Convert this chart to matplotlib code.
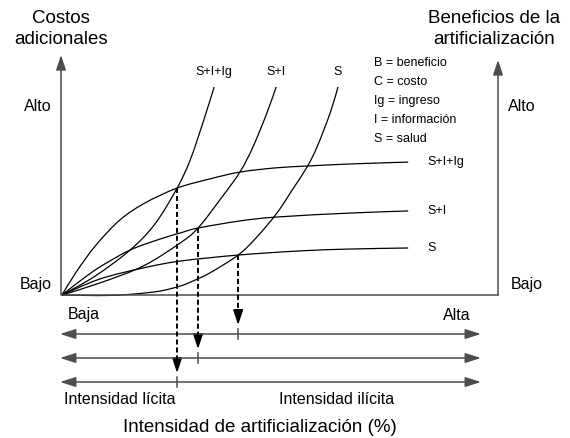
import numpy as np
import matplotlib.pyplot as plt
from matplotlib.path import Path
from matplotlib.patches import PathPatch, FancyArrowPatch

plt.rcParams['font.family'] = ['Liberation Sans', 'DejaVu Sans']

# x = intensidad de artificializacion (%), y = nivel (0 bajo .. 100 alto)
series = ['S+I+Ig', 'S+I', 'S']

costo_sii_x = [0, 7.6, 15.6, 21.3, 26.4, 29.4, 32.3, 34.9]
costo_sii_y = [0, 9.1, 21.6, 34.1, 51.4, 64.9, 82.7, 100]
costo_si_x = [0, 8.7, 18.6, 27.1, 31.2, 36.2, 40.8, 43.8, 47.0, 49.1]
costo_si_y = [0, 5.8, 13.9, 25.0, 32.2, 45.7, 59.1, 71.2, 87.5, 100]
costo_s_x = [0, 5.3, 11.0, 16.7, 22.5, 27.1, 30.0, 33.9, 40.4, 44.7, 49.3, 52.8, 56.2, 58.5, 61.5, 63.3]
costo_s_y = [0, -0.2, -0.2, 0.5, 1.9, 4.3, 6.7, 10.6, 19.2, 27.9, 39.4, 50.5, 61.5, 71.2, 87.5, 100]

benef_sii_x = [0, 3.4, 7.8, 13.3, 19.0, 26.4, 33.9, 40.8, 48.9, 56.2, 66.1, 79.4]
benef_sii_y = [0, 11.5, 24.0, 36.1, 44.2, 51.4, 55.8, 59.1, 61.1, 62.0, 63.0, 63.9]
benef_si_x = [0, 4.1, 8.7, 15.6, 22.5, 27.1, 31.2, 40.8, 49.3, 66.1, 79.4]
benef_si_y = [0, 6.7, 13.5, 21.6, 26.9, 29.8, 32.2, 35.6, 37.5, 39.4, 40.4]
benef_s_x = [0, 8.7, 18.6, 27.1, 40.4, 54.6, 66.1, 79.4]
benef_s_y = [0, 7.7, 13.0, 16.3, 19.2, 21.2, 22.1, 22.6]

# puntos de equilibrio (costo = beneficio)
equil_x = [26.4, 31.2, 40.4]
equil_y = [51.4, 32.2, 19.2]

leyenda = ['B = beneficio', 'C = costo', 'Ig = ingreso', 'I = información', 'S = salud']

# pixel <-> data mapping
X0, XS = 62, 4.36
Y0, YS = 295, 2.08
W, H = 570, 438


def P(px, py):
    return (px - X0) / XS, (Y0 - py) / YS


def smooth(ax, xs, ys, **kw):
    pts = np.column_stack([xs, ys]).astype(float)
    ext = np.vstack([pts[0], pts, pts[-1]])
    verts = [tuple(pts[0])]
    codes = [Path.MOVETO]
    for i in range(1, len(ext) - 2):
        p0, p1, p2, p3 = ext[i - 1], ext[i], ext[i + 1], ext[i + 2]
        c1 = p1 + (p2 - p0) / 6
        c2 = p2 - (p3 - p1) / 6
        verts += [tuple(c1), tuple(c2), tuple(p2)]
        codes += [Path.CURVE4] * 3
    ax.add_patch(PathPatch(Path(verts, codes), fill=False, **kw))


fig = plt.figure(figsize=(W / 100, H / 100), dpi=100)
ax = fig.add_axes([0, 0, 1, 1])
ax.set_xlim(-X0 / XS, (W - X0) / XS)
ax.set_ylim((Y0 - H) / YS, Y0 / YS)
ax.axis('off')

gris = '#4d4d4d'

# ejes
ax.plot([0, 100], [0, 0], color=gris, lw=1.1)
for xa, ytop in [(P(61, 0)[0], P(0, 55)[1]), (100, P(0, 60)[1])]:
    ax.add_patch(FancyArrowPatch((xa, 0), (xa, ytop), arrowstyle='-|>,head_length=9,head_width=3',
                                 mutation_scale=1, color=gris, lw=1.1, shrinkA=0, shrinkB=0))

# curvas
costos = [(costo_sii_x, costo_sii_y), (costo_si_x, costo_si_y), (costo_s_x, costo_s_y)]
benefs = [(benef_sii_x, benef_sii_y), (benef_si_x, benef_si_y), (benef_s_x, benef_s_y)]
for name, (cx, cy), (bx, by) in zip(series, costos, benefs):
    smooth(ax, cx, cy, color='black', lw=0.9)
    smooth(ax, bx, by, color='black', lw=0.9)
    ax.text(cx[-1], cy[-1] + 15 / YS, name, ha='center', va='center', fontsize=9)
    ax.text(bx[-1] + 19 / XS, by[-1], name, ha='left', va='center', fontsize=9)

# flechas de intensidad
niveles = [P(0, 382)[1], P(0, 358)[1], P(0, 334)[1]]
xl, xr = P(60, 0)[0], P(481, 0)[0]
for lvl, ex, ey in zip(niveles, equil_x, equil_y):
    ax.add_patch(FancyArrowPatch((xl, lvl), (xr, lvl), arrowstyle='<|-|>,head_length=9.5,head_width=3',
                                 mutation_scale=1, color=gris, lw=1.1, shrinkA=0, shrinkB=0))
    tip = lvl + 9 / YS
    head = 13 / YS
    ax.plot([ex, ex], [ey, tip + head], color='black', lw=1.4, ls=(0, (2.6, 1.5)))
    ax.add_patch(FancyArrowPatch((ex, tip + head + 0.5), (ex, tip), arrowstyle='-|>,head_length=9,head_width=3',
                                 mutation_scale=1, color='black', lw=1.2, shrinkA=0, shrinkB=0))
    ax.plot([ex, ex], [lvl + 2.4, lvl - 2.4], color=gris, lw=1.1)

# textos
ax.text(*P(61, 29), 'Costos\nadicionales', ha='center', va='center', fontsize=13.5, linespacing=1.3)
ax.text(*P(494, 29), 'Beneficios de la\nartificialización', ha='center', va='center', fontsize=13.5,
        linespacing=1.3)
ax.text(*P(38, 107), 'Alto', ha='center', va='center', fontsize=11.5)
ax.text(*P(522, 107), 'Alto', ha='center', va='center', fontsize=11.5)
ax.text(*P(36, 284), 'Bajo', ha='center', va='center', fontsize=11.5)
ax.text(*P(527, 284), 'Bajo', ha='center', va='center', fontsize=11.5)
ax.text(*P(84, 315), 'Baja', ha='center', va='center', fontsize=11.5)
ax.text(*P(457, 315), 'Alta', ha='center', va='center', fontsize=11.5)
ax.text(*P(120, 399), 'Intensidad lícita', ha='center', va='center', fontsize=11.5)
ax.text(*P(337, 399), 'Intensidad ilícita', ha='center', va='center', fontsize=11.5)
ax.text(*P(260, 428), 'Intensidad de artificialización (%)', ha='center', va='center', fontsize=13.5)

for i, t in enumerate(leyenda):
    ax.text(*P(374, 63 + 19 * i), t, ha='left', va='center', fontsize=9)

fig.savefig('out.png', dpi=100, facecolor='white')
